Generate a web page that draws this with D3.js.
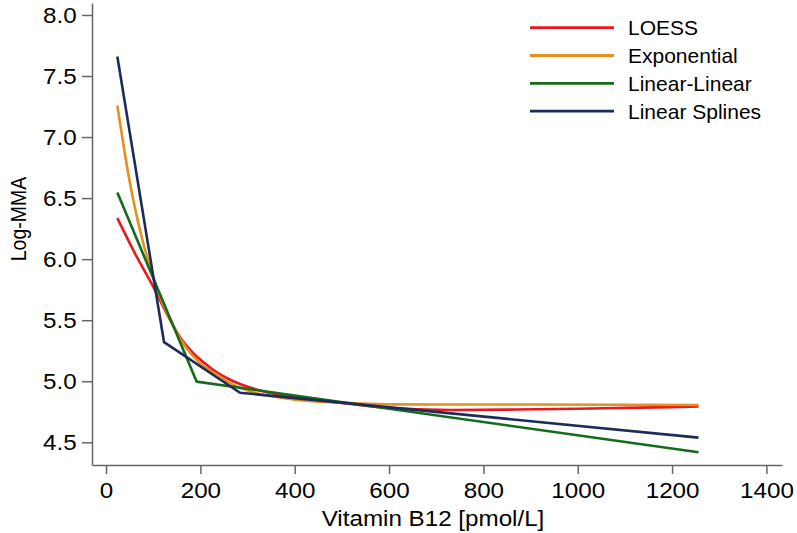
<!DOCTYPE html>
<html>
<head>
<meta charset="utf-8">
<script src="https://cdn.jsdelivr.net/npm/d3@7"></script>
<style>
	body { margin: 0; background: #fff; }
	svg { display: block; font-family: "Liberation Sans", Arial, sans-serif; }
</style>
</head>
<body>
<svg id="chart" width="797" height="533"></svg>
<script>
// Axis ticks
const xTicks = [0, 200, 400, 600, 800, 1000, 1200, 1400];
const yTicks = [4.5, 5.0, 5.5, 6.0, 6.5, 7.0, 7.5, 8.0];

// Legend
const seriesNames = ["LOESS", "Exponential", "Linear-Linear", "Linear Splines"];
const seriesColors = ["#e8181d", "#e58f1d", "#146b1a", "#1d2b5a"];

// Values (vitamin B12 vs log-MMA)
const loessX = [24, 61, 104, 128, 157, 185, 210, 235, 270, 305, 341, 411, 500, 588, 730, 870, 1000, 1100, 1200, 1256];
const loessY = [6.336, 6.05, 5.745, 5.56, 5.36, 5.23, 5.145, 5.072, 5.0, 4.948, 4.91, 4.866, 4.822, 4.785, 4.765, 4.768, 4.775, 4.782, 4.788, 4.793];

const expoX = [24, 50, 58, 79, 100, 122, 136, 157, 178, 199, 235, 270, 305, 411, 500, 588, 700, 900, 1100, 1256];
const expoY = [7.259, 6.64, 6.48, 6.13, 5.857, 5.62, 5.51, 5.35, 5.235, 5.15, 5.055, 4.97, 4.918, 4.845, 4.825, 4.811, 4.81, 4.809, 4.808, 4.806];

const linLinX = [24, 192, 1256];
const linLinY = [6.546, 4.997, 4.418];

const splineX = [24, 123, 284, 1256];
const splineY = [7.66, 5.32, 4.906, 4.538];

function whenDocumentLoaded(action) {
	if (document.readyState === "loading") {
		document.addEventListener("DOMContentLoaded", action);
	} else {
		action();
	}
}

function drawChart() {
	const svg = d3.select("#chart");
	const axisColor = "#666";

	const x = d3.scaleLinear().domain([-29.7, 1433]).range([92, 782]);
	const y = d3.scaleLinear().domain([4.314, 8.098]).range([465, 3]);

	// x axis
	const xAxis = svg.append("g")
		.attr("transform", "translate(0,465)")
		.call(d3.axisBottom(x).tickValues(xTicks).tickFormat(d3.format("d")).tickSize(9).tickSizeOuter(0).tickPadding(8));
	// y axis
	const yAxis = svg.append("g")
		.attr("transform", "translate(92,0)")
		.call(d3.axisLeft(y).tickValues(yTicks).tickFormat(d3.format(".1f")).tickSize(10).tickSizeOuter(0).tickPadding(4));

	[xAxis, yAxis].forEach((g) => {
		g.select(".domain").attr("stroke", axisColor).attr("stroke-width", 1.5);
		g.selectAll(".tick line").attr("stroke", axisColor).attr("stroke-width", 1.5);
		g.selectAll(".tick text")
			.attr("fill", "#000")
			.style("font-size", "22px")
			.attr("transform", "scale(1.1,1)");
		g.attr("font-family", null);
	});

	// axis titles
	svg.append("text")
		.attr("transform", "translate(433,526) scale(1.1,1)")
		.attr("text-anchor", "middle")
		.style("font-size", "22px")
		.text("Vitamin B12 [pmol/L]");

	svg.append("text")
		.attr("transform", "translate(26,219) rotate(-90) scale(1,1.1)")
		.attr("text-anchor", "middle")
		.style("font-size", "19.5px")
		.text("Log-MMA");

	// curves: smooth fits get a monotone curve, piecewise fits stay straight
	const series = [
		{ xs: loessX, ys: loessY, curve: d3.curveMonotoneX },
		{ xs: expoX, ys: expoY, curve: d3.curveMonotoneX },
		{ xs: linLinX, ys: linLinY, curve: d3.curveLinear },
		{ xs: splineX, ys: splineY, curve: d3.curveLinear },
	];

	svg.append("g")
		.selectAll("path")
		.data(series)
		.join("path")
		.attr("fill", "none")
		.attr("stroke", (d, i) => seriesColors[i])
		.attr("stroke-width", 2.6)
		.attr("stroke-linejoin", "round")
		.attr("d", (d) => d3.line()
			.x((p) => x(p[0]))
			.y((p) => y(p[1]))
			.curve(d.curve)(d3.zip(d.xs, d.ys)));

	// legend
	const legend = svg.append("g")
		.selectAll("g")
		.data(seriesNames)
		.join("g")
		.attr("transform", (d, i) => `translate(0,${27.7 + i * 27.8})`);
	legend.append("line")
		.attr("x1", 530)
		.attr("x2", 614)
		.attr("stroke", (d, i) => seriesColors[i])
		.attr("stroke-width", 2.8);
	legend.append("text")
		.attr("x", 628)
		.attr("dy", "0.36em")
		.style("font-size", "21px")
		.text((d) => d);
}

whenDocumentLoaded(drawChart);
</script>
</body>
</html>
